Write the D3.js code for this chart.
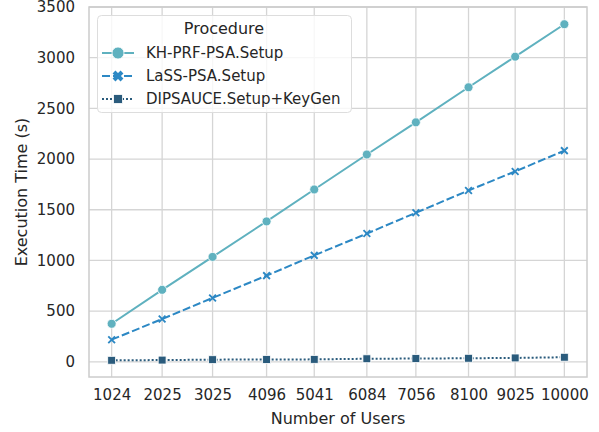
<!DOCTYPE html>
<html>
<head>
<meta charset="utf-8">
<script src="https://cdn.jsdelivr.net/npm/d3@7"></script>
<style>
  body { margin: 0; background: #fff; }
  svg { display: block; font-family: "DejaVu Sans", sans-serif; }
</style>
</head>
<body>
<svg id="chart" width="599" height="432"></svg>
<script>
// data
const users = [1024, 2025, 3025, 4096, 5041, 6084, 7056, 8100, 9025, 10000]
const khSetup = [375, 710, 1035, 1385, 1700, 2045, 2362, 2708, 3010, 3330]
const lassSetup = [218, 422, 630, 850, 1050, 1265, 1470, 1690, 1878, 2083]
const dipsauce = [15, 17, 21, 23, 24, 30, 32, 35, 38, 45]
const yTicks = [0, 500, 1000, 1500, 2000, 2500, 3000, 3500]

const series = [
  {name: "KH-PRF-PSA.Setup", values: khSetup, color: "#5fb1bf", dash: null, marker: "circle"},
  {name: "LaSS-PSA.Setup", values: lassSetup, color: "#2c88c4", dash: "8,3", marker: "x"},
  {name: "DIPSAUCE.Setup+KeyGen", values: dipsauce, color: "#2a5b7c", dash: "2,2", marker: "square"}
]

const MARGIN = {top: 7, left: 89, right: 12, bottom: 55}
const WIDTH = 599, HEIGHT = 432
const GRID = "#d5d5d5", TEXT = "#262626"

const svg = d3.select("#chart")

const x = d3.scaleLinear()
  .domain([575, 10449])
  .range([MARGIN.left, WIDTH - MARGIN.right])
const y = d3.scaleLinear()
  .domain([-150, 3500])
  .range([HEIGHT - MARGIN.bottom, MARGIN.top])

// gridlines
svg.append("g").selectAll("line").data(users).join("line")
  .attr("x1", d => x(d)).attr("x2", d => x(d))
  .attr("y1", y.range()[1]).attr("y2", y.range()[0])
  .attr("stroke", GRID).attr("stroke-width", 1.3)
svg.append("g").selectAll("line").data(yTicks).join("line")
  .attr("y1", d => y(d)).attr("y2", d => y(d))
  .attr("x1", x.range()[0]).attr("x2", x.range()[1])
  .attr("stroke", GRID).attr("stroke-width", 1.3)

// frame
svg.append("rect")
  .attr("x", x.range()[0]).attr("y", y.range()[1])
  .attr("width", x.range()[1] - x.range()[0])
  .attr("height", y.range()[0] - y.range()[1])
  .attr("fill", "none").attr("stroke", "#cccccc").attr("stroke-width", 1.5)

// axes (labels only, no domain/ticks)
const xAxis = svg.append("g")
  .attr("transform", `translate(0,${y.range()[0]})`)
  .call(d3.axisBottom(x).tickValues(users).tickFormat(d3.format("d")).tickSize(0).tickPadding(12))
xAxis.select(".domain").remove()
xAxis.attr("font-size", null).attr("font-family", null)
xAxis.selectAll("text").attr("fill", TEXT).style("font-size", "15px")

const yAxis = svg.append("g")
  .attr("transform", `translate(${x.range()[0]},0)`)
  .call(d3.axisLeft(y).tickValues(yTicks).tickFormat(d3.format("d")).tickSize(0).tickPadding(14))
yAxis.select(".domain").remove()
yAxis.attr("font-size", null).attr("font-family", null)
yAxis.selectAll("text").attr("fill", TEXT).style("font-size", "15px")

svg.append("text")
  .attr("x", (x.range()[0] + x.range()[1]) / 2).attr("y", 424)
  .attr("text-anchor", "middle").attr("fill", TEXT).style("font-size", "16px")
  .text("Number of Users")
svg.append("text")
  .attr("transform", `translate(27,${(y.range()[0] + y.range()[1]) / 2}) rotate(-90)`)
  .attr("text-anchor", "middle").attr("fill", TEXT).style("font-size", "16px")
  .text("Execution Time (s)")

// marker helper
function drawMarker(g, type, cx, cy, color, size) {
  if (type === "circle") {
    g.append("circle").attr("cx", cx).attr("cy", cy).attr("r", size * 0.6)
      .attr("fill", color).attr("stroke", "#fff").attr("stroke-width", 0.8)
  } else if (type === "square") {
    const s = size * 1.05
    g.append("rect").attr("x", cx - s / 2).attr("y", cy - s / 2).attr("width", s).attr("height", s)
      .attr("fill", color).attr("stroke", "#fff").attr("stroke-width", 0.8)
  } else {
    const s = size * 0.45
    g.append("path")
      .attr("d", `M${cx - s},${cy - s}L${cx + s},${cy + s}M${cx - s},${cy + s}L${cx + s},${cy - s}`)
      .attr("stroke", color).attr("stroke-width", size * 0.25)
  }
}

// lines
const line = d3.line().x((d, i) => x(users[i])).y(d => y(d))
series.forEach(s => {
  svg.append("path").datum(s.values)
    .attr("fill", "none").attr("stroke", s.color).attr("stroke-width", 2)
    .attr("stroke-dasharray", s.dash)
    .attr("d", line)
  const mg = svg.append("g")
  s.values.forEach((v, i) => drawMarker(mg, s.marker, x(users[i]), y(v), s.color, 7.5))
})

// legend
const lg = svg.append("g")
lg.append("rect").attr("x", 97.5).attr("y", 15.5).attr("width", 254).attr("height", 97).attr("rx", 4)
  .attr("fill", "#fff").attr("fill-opacity", 0.8).attr("stroke", "#dddddd")
lg.append("text").attr("x", 224).attr("y", 34).attr("text-anchor", "middle")
  .attr("fill", TEXT).style("font-size", "16px").text("Procedure")
series.forEach((s, i) => {
  const ly = 53 + i * 23
  lg.append("line").attr("x1", 102).attr("x2", 134).attr("y1", ly).attr("y2", ly)
    .attr("stroke", s.color).attr("stroke-width", 2).attr("stroke-dasharray", s.dash)
  if (s.marker === "x") {
    // chunky filled X as in the legend
    lg.append("path")
      .attr("d", `M${114},${ly - 4}L${122},${ly + 4}M${114},${ly + 4}L${122},${ly - 4}`)
      .attr("stroke", s.color).attr("stroke-width", 4)
  } else {
    drawMarker(lg, s.marker, 118, ly, s.color, s.marker === "circle" ? 10 : 8.5)
  }
  lg.append("text").attr("x", 146).attr("y", ly + 5)
    .attr("fill", TEXT).style("font-size", "15px").text(s.name)
})
</script>
</body>
</html>
